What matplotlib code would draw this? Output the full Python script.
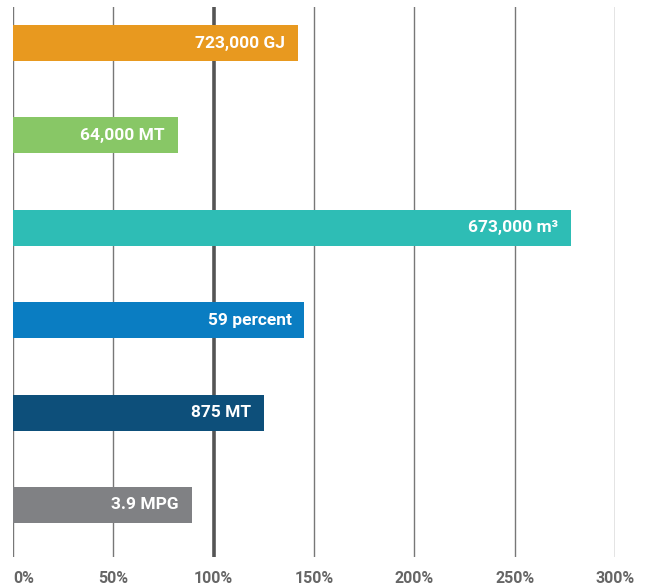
import matplotlib
matplotlib.use('Agg')
import matplotlib.pyplot as plt
import numpy as np

labels = ['723,000 GJ', '64,000 MT', '673,000 m³', '59 percent', '875 MT', '3.9 MPG']
values = [142, 82, 278, 145, 125, 89]
colors = ['#E8991F', '#88C766', '#2EBDB5', '#0A7DC2', '#0D4F7A', '#808184']
ticks = [0, 50, 100, 150, 200, 250, 300]
tick_labels = ['0%', '50%', '100%', '150%', '200%', '250%', '300%']

plt.rcParams['font.family'] = ['Liberation Sans Narrow', 'Roboto', 'DejaVu Sans']

fig = plt.figure(figsize=(6.46, 5.85), dpi=100)
ax = fig.add_axes([0.0201, 0.0479, 0.932, 0.940])

y = np.arange(len(values))
for t in ticks:
    if t == 100:
        ax.axvline(t, color='#555555', lw=2.6, zorder=1)
    else:
        ax.axvline(t, color='#777777', lw=1.0, zorder=1)

ax.barh(y, values, height=0.39, color=colors, zorder=2)
for yi, v, lab in zip(y, values, labels):
    ax.annotate(lab, (v, yi), xytext=(-9, 0), textcoords='offset points',
                ha='right', va='center', color='white', fontsize=12.5,
                fontweight='bold', zorder=3)

ax.set_xlim(0, 300)
ax.set_ylim(5.563, -0.39)
ax.set_yticks([])
ax.set_xticks(ticks)
ax.set_xticklabels(tick_labels, fontsize=11.5, fontweight='bold', color='#666666')
ax.get_xticklabels()[0].set_horizontalalignment('left')
ax.tick_params(axis='x', length=0, pad=10)
for s in ax.spines.values():
    s.set_visible(False)

plt.savefig('out.png', dpi=100)
